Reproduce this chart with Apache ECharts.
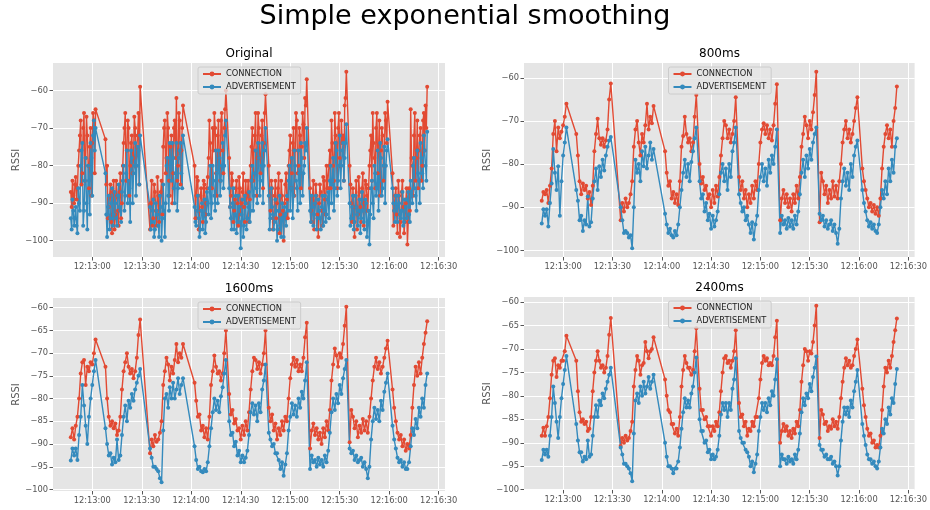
<!DOCTYPE html>
<html>
<head>
<meta charset="utf-8">
<script src="https://cdn.jsdelivr.net/npm/echarts@6/dist/echarts.min.js"></script>
<style>
html,body{margin:0;padding:0;background:#fff;}
#chart{width:930px;height:510px;}
</style>
</head>
<body>
<div id="chart"></div>
<script>
// ---- DATA ----
// sample times, seconds after 12:12:00
const times = [
47,48,49,50,51,52,53,54,55,56,57,58,59,60,61,62,
68,69,70,71,72,73,74,75,76,77,78,79,80,81,82,83,84,85,86,87,88,89,
95,96,97,98,99,100,101,102,103,104,105,106,107,108,109,110,111,112,113,114,115,
122,123,124,125,126,127,128,129,130,131,132,133,134,135,136,137,138,139,140,141,
143,144,145,146,147,148,149,150,151,152,153,154,155,156,157,158,159,160,161,162,163,164,165,
167,168,169,170,171,172,173,174,175,176,177,178,179,180,181,182,183,184,185,186,187,188,189,190,
192,193,194,195,196,197,198,199,200,201,202,203,204,205,206,207,208,209,210,211,212,213,214,
216,217,218,219,220,221,222,223,224,225,226,227,228,229,230,231,232,233,234,235,236,237,238,239,
242,243,244,245,246,247,248,249,250,251,252,253,254,255,256,257,258,259,260,261,262,263
];
// extra raw samples shown only in the unsmoothed panel
const timesExtra = [
47.5,48.5,49.5,50.5,51.5,52.5,53.5,54.5,55.5,56.5,57.5,58.5,59.5,60.5,61.5,
68.5,69.5,70.5,71.5,72.5,73.5,74.5,75.5,76.5,77.5,78.5,79.5,80.5,81.5,82.5,83.5,84.5,85.5,86.5,87.5,88.5,
95.5,96.5,97.5,98.5,99.5,100.5,101.5,102.5,103.5,104.5,105.5,106.5,107.5,108.5,109.5,110.5,111.5,112.5,113.5,114.5,
122.5,123.5,124.5,125.5,126.5,127.5,128.5,129.5,130.5,131.5,132.5,133.5,134.5,135.5,136.5,137.5,138.5,139.5,140.5,
143.5,144.5,145.5,146.5,147.5,148.5,149.5,150.5,151.5,152.5,153.5,154.5,155.5,156.5,157.5,158.5,159.5,160.5,161.5,162.5,163.5,164.5,
167.5,168.5,169.5,170.5,171.5,172.5,173.5,174.5,175.5,176.5,177.5,178.5,179.5,180.5,181.5,182.5,183.5,184.5,185.5,186.5,187.5,188.5,189.5,
192.5,193.5,194.5,195.5,196.5,197.5,198.5,199.5,200.5,201.5,202.5,203.5,204.5,205.5,206.5,207.5,208.5,209.5,210.5,211.5,212.5,213.5,
216.5,217.5,218.5,219.5,220.5,221.5,222.5,223.5,224.5,225.5,226.5,227.5,228.5,229.5,230.5,231.5,232.5,233.5,234.5,235.5,236.5,237.5,238.5,
242.5,243.5,244.5,245.5,246.5,247.5,248.5,249.5,250.5,251.5,252.5,253.5,254.5,255.5,256.5,257.5,258.5,259.5,260.5,261.5,262.5
];
const timeBase = [12, 12, 0];

const connOriginal = [
-87,-84,-90,-83,-86,-76,-68,-82,-66,-78,-72,-86,-70,-74,-68,-65,
-73,-80,-91,-85,-98,-84,-93,-88,-96,-82,-90,-74,-66,-76,-70,-80,-72,-78,-70,-75,-66,-59,
-97,-84,-94,-87,-96,-88,-91,-84,-75,-68,-78,-70,-88,-72,-82,-68,-62,-80,-68,-76,-64,
-80,-88,-84,-92,-86,-95,-85,-90,-83,-68,-80,-70,-66,-82,-72,-78,-68,-76,-70,-60,
-78,-88,-84,-92,-86,-90,-83,-93,-87,-91,-84,-88,-95,-80,-70,-76,-66,-78,-70,-82,-68,-74,-61,
-80,-92,-86,-95,-84,-90,-82,-93,-88,-100,-85,-89,-80,-72,-82,-70,-76,-68,-80,-72,-75,-69,-62,-57,
-86,-95,-84,-90,-88,-99,-85,-92,-83,-89,-80,-86,-76,-68,-80,-66,-74,-70,-78,-68,-72,-64,-55,
-80,-90,-86,-99,-84,-93,-87,-95,-82,-90,-85,-92,-80,-72,-66,-78,-70,-82,-68,-76,-72,-80,-68,-63,
-82,-92,-86,-98,-88,-95,-84,-98,-90,-101,-86,-65,-80,-72,-84,-68,-76,-70,-80,-66,-64,-59
];
const connOriginalExtra = [
-91,-88,-85,-89,-80,-72,-85,-70,-84,-67,-80,-75,-88,-66,-82,
-85,-94,-88,-95,-87,-97,-84,-92,-87,-94,-80,-70,-84,-68,-88,-74,-82,-67,-80,-72,-85,
-90,-96,-85,-92,-83,-95,-87,-93,-70,-82,-66,-84,-75,-90,-70,-78,-84,-66,-85,-70,
-94,-83,-97,-88,-91,-84,-93,-86,-78,-74,-86,-76,-70,-88,-68,-84,-66,-82,-65,
-91,-82,-95,-89,-84,-96,-86,-90,-82,-95,-90,-84,-89,-75,-84,-72,-88,-66,-78,-72,-86,-66,
-88,-84,-97,-88,-94,-86,-98,-84,-92,-90,-82,-94,-76,-86,-74,-88,-66,-82,-70,-86,-66,-78,-64,
-92,-88,-97,-85,-93,-90,-87,-96,-84,-93,-86,-80,-86,-74,-84,-72,-86,-66,-80,-74,-84,-62,
-85,-95,-91,-88,-97,-83,-91,-86,-96,-84,-88,-86,-76,-84,-74,-86,-66,-76,-88,-70,-84,-66,-74,
-96,-88,-93,-84,-99,-87,-91,-95,-86,-95,-92,-78,-88,-66,-78,-86,-72,-84,-68,-76,-70
];
const advOriginal = [
-94,-89,-96,-91,-98,-90,-80,-74,-92,-78,-97,-84,-74,-88,-68,-70,
-82,-99,-88,-94,-86,-93,-90,-96,-85,-92,-87,-80,-88,-76,-84,-95,-78,-82,-74,-80,-76,-72,
-91,-95,-89,-97,-92,-96,-88,-100,-85,-99,-80,-88,-74,-84,-78,-90,-74,-86,-76,-82,-72,
-91,-96,-88,-99,-92,-97,-89,-95,-90,-86,-94,-80,-88,-76,-90,-78,-84,-74,-80,-68,
-86,-94,-90,-97,-88,-95,-91,-102,-89,-96,-90,-94,-87,-92,-80,-88,-76,-90,-78,-84,-74,-80,-70,
-88,-94,-91,-97,-89,-100,-92,-96,-90,-99,-93,-88,-84,-92,-78,-88,-80,-86,-76,-90,-78,-82,-74,-70,
-92,-88,-96,-90,-97,-89,-94,-91,-96,-88,-93,-87,-84,-90,-78,-86,-76,-84,-72,-80,-74,-78,-69,
-90,-94,-88,-95,-91,-96,-89,-94,-92,-97,-90,-95,-101,-86,-90,-80,-88,-76,-84,-78,-86,-75,-80,-73,
-86,-92,-88,-95,-90,-94,-87,-95,-91,-89,-93,-84,-90,-78,-88,-76,-84,-74,-82,-72,-80,-71
];
const advOriginalExtra = [
-97,-92,-94,-96,-86,-92,-76,-96,-84,-90,-80,-93,-78,-72,-76,
-93,-91,-97,-90,-96,-87,-94,-88,-91,-95,-84,-92,-82,-90,-86,-76,-90,-80,-88,-75,-85,
-97,-92,-99,-90,-93,-99,-91,-94,-92,-90,-78,-92,-80,-74,-86,-82,-92,-78,-74,-86,
-95,-92,-94,-97,-90,-93,-98,-87,-93,-80,-90,-84,-92,-82,-76,-88,-80,-86,-72,
-91,-97,-86,-93,-98,-88,-95,-93,-99,-88,-97,-91,-95,-84,-92,-82,-86,-74,-88,-80,-90,-76,
-97,-86,-93,-95,-92,-97,-88,-99,-94,-91,-96,-92,-80,-86,-94,-76,-84,-92,-82,-74,-88,-80,-76,
-95,-91,-93,-88,-94,-92,-97,-88,-92,-95,-89,-94,-80,-84,-92,-74,-88,-80,-86,-76,-84,-74,
-96,-91,-97,-88,-93,-92,-98,-87,-95,-89,-99,-92,-93,-84,-94,-82,-86,-92,-74,-88,-80,-90,-76,
-90,-95,-91,-88,-93,-92,-96,-89,-94,-87,-95,-88,-80,-86,-92,-82,-90,-78,-86,-76,-84
];

const conn800 = [
-88.5,-86.5,-87,-86,-89,-85,-81,-73,-70,-77,-71.5,-74,-72.5,-71,-69,-66,
-73,-78,-84,-87,-84.5,-86,-85,-88,-86.5,-89.5,-85,-77,-73,-69.5,-74,-75.5,-74,-76,-74.5,-72,-65,-61.3,
-93,-89,-91,-88,-90,-89,-87,-84,-76,-72,-70,-75,-78,-73,-75,-71,-66,-72,-69,-70.5,-66.5,
-77,-82,-85,-84,-88,-86.5,-89,-87,-89.5,-84,-76,-73.5,-69,-73,-75,-74,-77,-75,-69,-64,
-80,-84.5,-83,-86,-85,-88,-87,-90,-86,-89,-85,-87.5,-83,-78,-74,-70,-71,-74,-72,-75,-73,-70,-64.5,
-83,-86,-84,-88,-86,-90,-87,-89,-85,-88,-84,-86,-80,-75,-72,-70.5,-73,-71,-74,-72,-74.5,-71,-66,-61.5,
-93,-88,-86,-89,-87,-90,-88,-91,-87,-89,-85,-88,-83,-76,-73,-69,-71,-74,-70,-72,-68,-64,-58.6,
-93.5,-82,-84,-87,-85,-89,-86,-88,-84,-87.5,-85,-88,-84,-80,-75,-72,-70,-74,-72,-75,-73,-70,-67,-64.5,
-81,-84,-86,-88,-90,-89,-91,-89.5,-91.5,-90,-92,-88,-81,-76,-73,-71,-74,-72,-76,-70,-67,-62
];
const adv800 = [
-93.8,-90.5,-92,-90.5,-94.5,-89,-84.5,-76.5,-82,-86,-80.5,-92,-84,-78,-75,-71.5,
-86,-88.5,-93,-92,-95.5,-93,-94,-87.5,-94.5,-93.5,-88,-84,-81,-86,-80.5,-83,-79,-81.5,-78,-76,-74.5,-73.7,
-90,-93,-96,-95.5,-96,-97,-96.5,-99.5,-90,-79,-82,-80,-84,-77,-80.5,-76,-81,-78,-75,-79,-76.5,
-91.5,-94,-96,-95,-96.5,-97,-95.5,-96.5,-94,-90,-86,-82,-79,-83,-80,-84,-79.5,-77,-74,-71.5,
-84,-88,-87,-91,-89,-93,-91.5,-95,-92,-94.5,-93,-91,-87,-82,-80,-84,-81,-86,-80,-83,-77,-75,-71.5,
-87,-89,-91,-90,-93,-92,-94,-96,-93.5,-97.5,-94,-92,-86,-83,-80,-84,-81,-85,-79,-82,-78,-80,-76,-72,
-96,-92,-94,-93,-95,-92.5,-94.5,-93,-95,-92,-94,-91,-87,-82,-79,-83,-78,-81,-76.5,-79,-75,-73,-71.5,
-91.5,-93,-92,-94.5,-93,-95,-94,-93,-95.5,-94,-96,-98.5,-95,-88,-84,-81,-85,-82,-86,-80,-83,-78,-76,-74.5,
-86,-89,-91,-93,-94.5,-93.5,-95,-94,-95.5,-96,-94,-90,-86,-88,-84,-87,-81,-84,-79,-82,-76,-74
];

const conn1600 = [
-88.5,-86.5,-89,-86,-84,-80,-74.5,-72,-71.5,-77,-73,-74,-72,-72.5,-70,-67,
-73,-80,-84,-86,-85,-86.5,-85.5,-88,-87,-84,-78,-74,-72,-70,-73,-74.5,-73.5,-75.5,-74,-71,-66,-62.6,
-92,-89,-90.5,-88,-89.5,-89,-87.5,-85,-77,-74,-71,-72.5,-76,-73,-74.5,-71.5,-68,-72,-70,-71,-68,
-76.5,-80.5,-84,-83.5,-87,-86,-88.5,-86.5,-89,-84,-77,-74,-70.5,-73,-74.5,-74,-76,-74.5,-70,-65,
-79,-83.5,-82.5,-85.5,-84.5,-87,-86.5,-89,-86,-88,-85,-87,-83,-78,-74,-71,-71.5,-73.5,-72,-74.5,-72.5,-70,-65,
-82,-85,-83.5,-87,-85.5,-89,-86.5,-88,-85,-87,-84,-85,-80,-75.5,-72.5,-71,-73,-71.5,-74,-72.5,-74,-71,-66.5,-63.3,
-91,-87,-85.5,-88,-86.5,-89,-87.5,-90,-86.5,-88.5,-85,-87,-82.5,-76,-72.5,-69,-70.5,-73,-70,-71,-68,-64,-59.8,
-89.6,-82.5,-84,-86.5,-85,-88.5,-86,-87.5,-84.5,-87,-85,-87.5,-84,-80,-76,-73,-71,-73.5,-72,-74.5,-73,-71,-69,-67.3,
-78,-82,-85,-87.5,-89,-88,-90.5,-89,-91.5,-90,-91,-88,-82,-77,-73,-75,-72,-74.5,-71,-68,-65.5,-63
];
const adv1600 = [
-93.6,-91,-92.5,-91,-93.5,-88,-84,-77,-81.5,-86,-90,-84,-80,-77,-74,-71.5,
-86.5,-90,-92.5,-92,-94.5,-93,-94,-89,-93.5,-92.5,-88,-84,-81.5,-85,-80.5,-82,-79,-80.5,-78,-76.5,-75,-73.5,
-91,-93,-95,-95,-95.5,-96,-97.5,-98.4,-87,-80,-79,-82,-77.5,-80,-76.5,-80,-78,-75.5,-79,-77,-75.5,
-90.5,-93.5,-95.5,-95,-96,-96.2,-95.5,-96,-94,-90.5,-86.5,-83,-80,-82.5,-80.5,-83,-79.5,-77.5,-74.5,-71.5,
-85,-88,-87.5,-90.5,-89.5,-92.5,-91.5,-94,-92.5,-94,-93,-91.5,-88,-83,-81,-83.5,-81.5,-85,-81,-83,-78,-76,-72.5,
-87.5,-89,-90.5,-90,-92,-92,-93.5,-95.5,-94,-97,-94.5,-92,-87,-84,-81,-83.5,-81.5,-84,-80,-82,-78.5,-80,-76,-72,
-95.5,-92.5,-94,-93.5,-95,-93,-94.5,-93.5,-95,-92.5,-94,-91.5,-87.5,-83,-80,-82.5,-79,-81,-77,-79,-75.5,-73.5,-71.5,
-91,-92,-91.5,-93.5,-92.5,-94,-93.5,-93,-95,-94,-95.5,-97.5,-95,-89,-85,-82,-84.5,-82.5,-85,-80.5,-82.5,-78.5,-76.5,-74.5,
-86,-89,-91,-93,-94,-93.5,-95,-94,-95.5,-95.5,-94,-90.5,-86.5,-88,-84.5,-86.5,-82,-84,-80,-82,-77,-74.5
];

const conn2400 = [
-88.5,-86.8,-88.5,-86.5,-84.5,-80.5,-75.5,-72.5,-72,-76,-73.5,-74,-72.5,-72.5,-70.5,-67.2,
-72.5,-79,-83.5,-85.5,-85,-86,-85.5,-87.5,-87,-84.5,-79,-75,-72.5,-70.5,-72.5,-74,-73.5,-75,-74,-71.5,-67,-63.4,
-90.7,-89,-90,-88.5,-89.5,-89,-87.5,-85.5,-78,-74.5,-71.5,-72.5,-75.5,-73.5,-73,-68.5,-70.5,-72,-70.5,-70,-67.5,
-76.5,-80,-83,-83.5,-86,-86,-88,-87,-88.5,-84.5,-78,-74.5,-71.5,-73,-74,-74,-75.5,-74.5,-70.5,-65.6,
-78.5,-83,-83,-85,-84.5,-86.5,-86.5,-88.5,-86.5,-87.5,-85.5,-86.5,-83.5,-79,-75,-72,-71.5,-73,-72.5,-74,-72.5,-70.5,-66,
-81.5,-84.5,-84,-86.5,-85.5,-88.5,-87,-87.5,-85.5,-86.5,-84.5,-84.5,-80.5,-76.5,-73,-71.5,-72.5,-72,-73.5,-73,-73.5,-71.5,-67.5,-64,
-90,-87.5,-86,-87.5,-86.5,-88.5,-87.5,-89,-87,-88,-85.5,-86.5,-83,-77,-73.5,-70,-70.5,-72.5,-70.5,-71,-68.5,-65,-60.8,
-89,-83,-84,-86,-85.5,-87.5,-86.5,-87,-85,-86.5,-85.5,-87,-84.5,-80.5,-77,-74,-72,-73.5,-72.5,-74,-73.5,-71.5,-70,-68,
-78.5,-82,-84.5,-87,-88.5,-88,-90,-89.5,-91,-90.5,-91,-88.5,-83,-78,-74,-75,-72.5,-74,-71.5,-68.5,-66,-63.5
];
const adv2400 = [
-93.7,-91.5,-92.5,-91.5,-93,-88.5,-84.5,-78,-81.5,-85.5,-89,-84.5,-80.5,-77.5,-74.5,-71.5,
-86,-89.5,-92,-92,-94,-93,-93.5,-89.5,-93,-92.5,-88.5,-84.5,-82,-84.5,-81,-82,-79.5,-80.5,-78.5,-77,-75.5,-74,
-91,-92.5,-94.5,-94.5,-95,-95.5,-96.5,-98.2,-88,-81,-79.5,-81.5,-78,-80,-77,-79.5,-78,-76,-78.5,-77,-75.5,
-90,-93,-95,-95,-95.5,-96.5,-95.5,-95.5,-94,-91,-87,-83.5,-80.5,-82.5,-81,-82.5,-79.5,-78,-75,-71.8,
-85,-87.5,-87.5,-90,-89.5,-92,-91.5,-93.5,-92.5,-93.5,-93,-91.5,-88.5,-84,-81.5,-83,-81.5,-84.5,-81.5,-83,-78.5,-76.5,-72,
-87.5,-89,-90,-90,-91.5,-92,-93,-95,-94,-96.3,-94.5,-92.5,-87.5,-84.5,-81.5,-83,-81.5,-83.5,-80.5,-82,-79,-80,-76.5,-72.2,
-95,-92.5,-93.5,-93.5,-94.5,-93,-94,-93.5,-94.5,-92.5,-93.5,-91.5,-88,-83.5,-80.5,-82,-79.5,-80.5,-77.5,-79,-76,-74,-71.6,
-90.5,-91.5,-91.5,-93,-92.5,-93.5,-93.5,-93,-94.5,-94,-95,-97,-95,-89.5,-85.5,-82.5,-84,-82.5,-84.5,-81,-82.5,-79,-77,-74.5,
-86,-88.5,-90.5,-92.5,-93.5,-93.5,-94.5,-94,-95,-95.5,-94,-91,-87,-88,-85,-86,-82.5,-84,-80.5,-81.5,-77.5,-74.3
];

const xTicks = [60, 90, 120, 150, 180, 210, 240, 270];
const yTicksCoarse = [-100, -90, -80, -70, -60];
const yTicksFine = [-100, -95, -90, -85, -80, -75, -70, -65, -60];
const panelTitles = ['Original', '800ms', '1600ms', '2400ms'];
const seriesNames = ['CONNECTION', 'ADVERTISEMENT'];
const mainTitle = 'Simple exponential smoothing';

// ---- CHART ----
const FONT = 'DejaVu Sans';
const RED = '#E24A33', BLUE = '#348ABD';

function pairs(ts, vs) { return ts.map((t, k) => [t, vs[k]]); }
function merged(ts1, vs1, ts2, vs2) {
  return pairs(ts1, vs1).concat(pairs(ts2, vs2)).sort((a, b) => a[0] - b[0]);
}

const panels = [
  {conn: merged(times, connOriginal, timesExtra, connOriginalExtra),
   adv: merged(times, advOriginal, timesExtra, advOriginalExtra),
   ticks: yTicksCoarse, left: 53,  top: 63,  width: 392, height: 194},
  {conn: pairs(times, conn800),  adv: pairs(times, adv800),  ticks: yTicksCoarse, left: 524, top: 63,  width: 391, height: 194},
  {conn: pairs(times, conn1600), adv: pairs(times, adv1600), ticks: yTicksFine,   left: 53,  top: 298, width: 392, height: 193},
  {conn: pairs(times, conn2400), adv: pairs(times, adv2400), ticks: yTicksFine,   left: 524, top: 297, width: 391, height: 193}
];

function fmtTime(v) {
  const s = Math.round(timeBase[0] * 3600 + timeBase[1] * 60 + timeBase[2] + v);
  const h = Math.floor(s / 3600), m = Math.floor((s % 3600) / 60), sec = s % 60;
  const p = n => (n < 10 ? '0' : '') + n;
  return p(h) + ':' + p(m) + ':' + p(sec);
}
function fmtY(v) { return String(v).replace('-', '\u2212'); }

const tMin = Math.min(...times), tMax = Math.max(...times);
const tPad = (tMax - tMin) * 0.05;

const option = {
  animation: false,
  backgroundColor: '#ffffff',
  title: [{
    text: mainTitle, left: 'center', top: 3, padding: 0,
    textStyle: {fontFamily: FONT, fontSize: 27, fontWeight: 'normal', color: '#000'}
  }],
  legend: [], grid: [], xAxis: [], yAxis: [], series: []
};

panels.forEach((p, i) => {
  const all = p.conn.concat(p.adv).map(d => d[1]);
  const lo = Math.min(...all), hi = Math.max(...all), pad = (hi - lo) * 0.05;
  const cx = p.left + p.width / 2;
  option.title.push({
    text: panelTitles[i], left: cx, textAlign: 'center', top: p.top - 15, padding: 0,
    textStyle: {fontFamily: FONT, fontSize: 12, fontWeight: 'normal', color: '#000'}
  });
  option.grid.push({
    left: p.left, top: p.top, width: p.width, height: p.height,
    show: true, backgroundColor: '#E5E5E5', borderWidth: 0
  });
  option.xAxis.push({
    type: 'value', gridIndex: i, min: tMin - tPad, max: tMax + tPad,
    axisLine: {show: false},
    axisTick: {show: true, length: 3.5, lineStyle: {color: '#555', width: 1}, customValues: xTicks},
    axisLabel: {customValues: xTicks, formatter: fmtTime, color: '#555', fontSize: 8.3, fontFamily: FONT, margin: 6},
    splitLine: {show: true, lineStyle: {color: '#ffffff', width: 1}}
  });
  option.yAxis.push({
    type: 'value', gridIndex: i, min: lo - pad, max: hi + pad,
    name: 'RSSI', nameLocation: 'middle', nameGap: 32, nameRotate: 90,
    nameTextStyle: {color: '#555', fontSize: 10, fontFamily: FONT},
    axisLine: {show: false},
    axisTick: {show: true, length: 3.5, lineStyle: {color: '#555', width: 1}, customValues: p.ticks},
    axisLabel: {customValues: p.ticks, formatter: fmtY, color: '#555', fontSize: 8.3, fontFamily: FONT, margin: 5},
    splitLine: {show: true, lineStyle: {color: '#ffffff', width: 1}}
  });
  option.legend.push({
    orient: 'vertical', left: cx - 51, top: p.top + 4,
    data: seriesNames,
    itemWidth: 18, itemHeight: 6, itemGap: 3,
    padding: [2, 5, 2, 4],
    backgroundColor: 'rgba(229,229,229,0.8)', borderColor: '#cccccc', borderWidth: 1, borderRadius: 2,
    textStyle: {fontFamily: FONT, fontSize: 8.3, color: '#222', lineHeight: 10},
    selectedMode: false
  });
  [[seriesNames[0], p.conn, RED], [seriesNames[1], p.adv, BLUE]].forEach(([name, data, col]) => {
    option.series.push({
      name: name, type: 'line', xAxisIndex: i, yAxisIndex: i,
      data: data,
      symbol: 'circle', symbolSize: 4, showSymbol: true,
      lineStyle: {color: col, width: 1.4},
      itemStyle: {color: col},
      silent: true, emphasis: {disabled: true}
    });
  });
});

const chart = echarts.init(document.getElementById('chart'), null, {renderer: 'canvas'});
chart.setOption(option);
</script>
</body>
</html>
